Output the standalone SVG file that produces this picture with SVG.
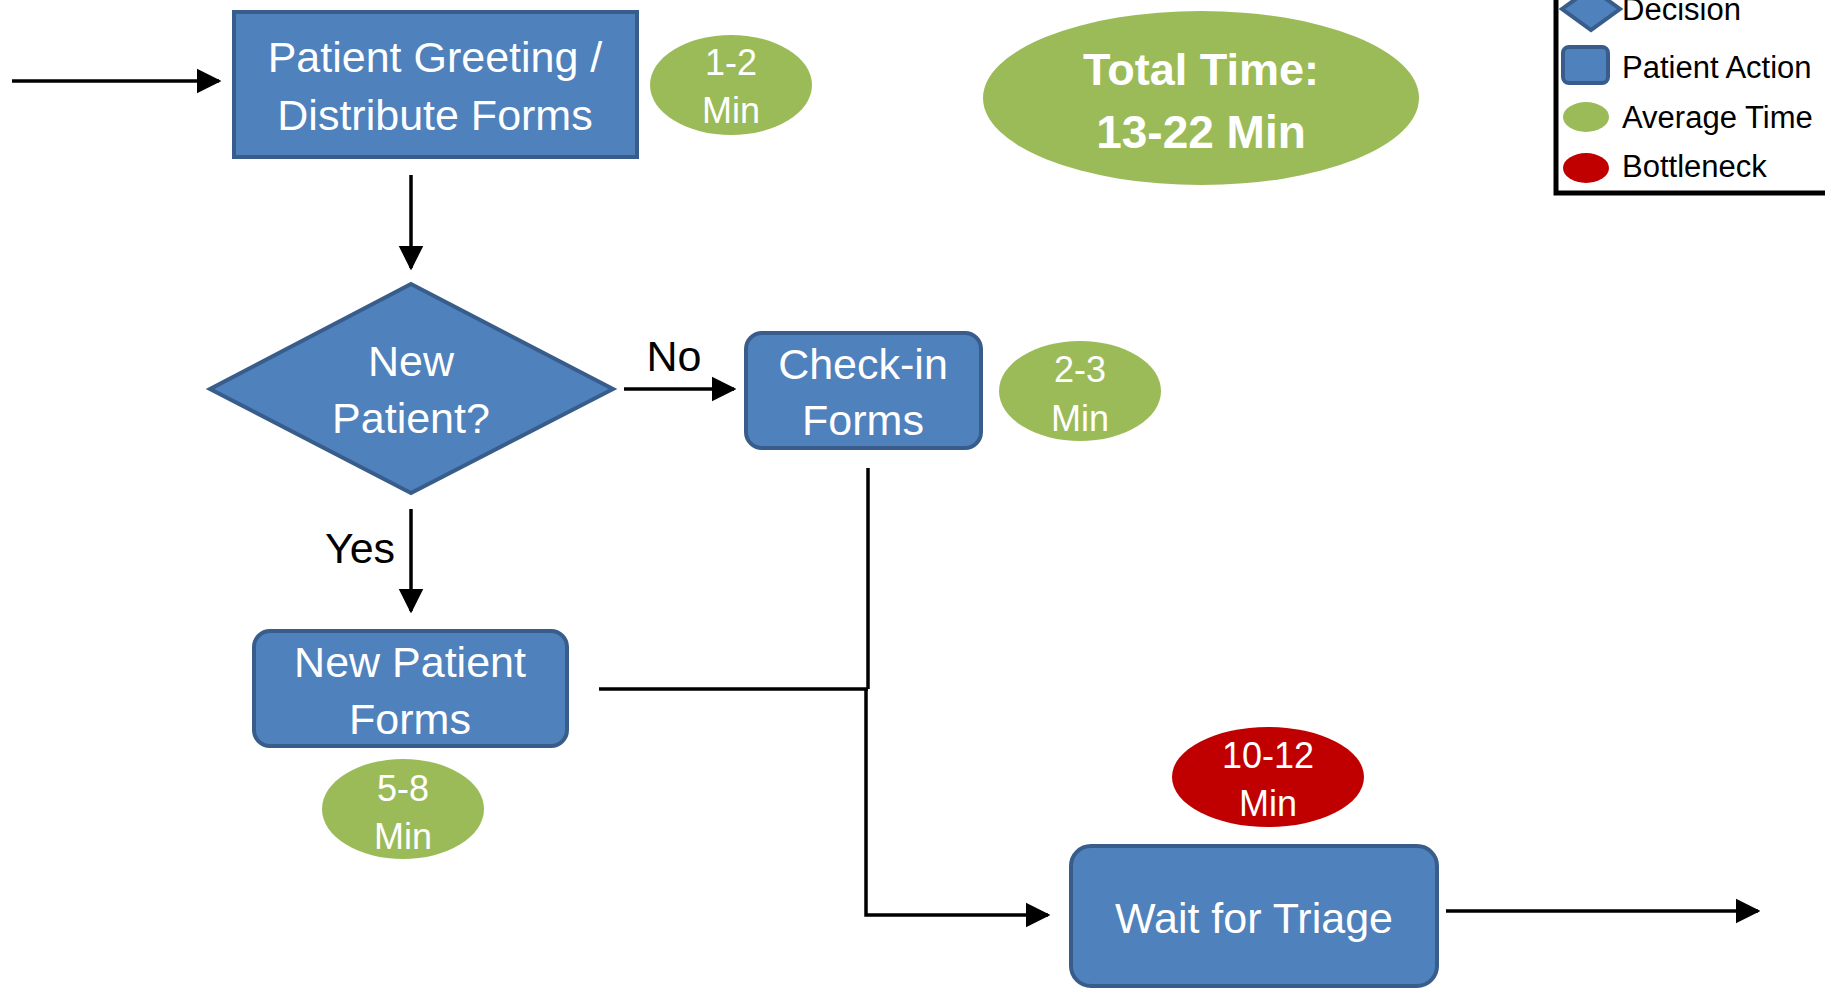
<svg xmlns="http://www.w3.org/2000/svg" width="1825" height="989" viewBox="0 0 1825 989">
<defs>
<marker id="ah" viewBox="0 0 10 10" refX="9" refY="5" markerWidth="7" markerHeight="8" markerUnits="strokeWidth" orient="auto">
<path d="M0,0 L10,5 L0,10 z" fill="#000"/>
</marker>
</defs>
<style>
.act{fill:#4F81BD;stroke:#385D8A;stroke-width:4}
.t{font-family:"Liberation Sans",Arial,sans-serif;fill:#fff;text-anchor:middle}
.big{font-size:43px}
.sm{font-size:36px}
.lbl{font-family:"Liberation Sans",Arial,sans-serif;fill:#000;font-size:43px;text-anchor:middle}
.lg{font-family:"Liberation Sans",Arial,sans-serif;fill:#000;font-size:31px}
.g{fill:#9BBB59}
.r{fill:#C00000}
.c{fill:none;stroke:#000;stroke-width:3.5}
</style>
<rect width="1825" height="989" fill="#fff"/>

<g id="connectors">
<line class="c" x1="12" y1="81" x2="219" y2="81" marker-end="url(#ah)"/>
<line class="c" x1="411" y1="175" x2="411" y2="268" marker-end="url(#ah)"/>
<line class="c" x1="624" y1="389" x2="734" y2="389" marker-end="url(#ah)"/>
<line class="c" x1="411" y1="509" x2="411" y2="611" marker-end="url(#ah)"/>
<polyline class="c" points="868,468 868,689"/>
<polyline class="c" points="599,689 868,689"/>
<polyline class="c" points="866,689 866,915 1048,915" marker-end="url(#ah)"/>
<line class="c" x1="1446" y1="911" x2="1758" y2="911" marker-end="url(#ah)"/>
<text class="lbl" x="674" y="371">No</text>
<text class="lbl" x="360" y="563">Yes</text>
</g>

<g id="greeting">
<rect class="act" x="234" y="12" width="403" height="145"/>
<text class="t big" x="435" y="72">Patient Greeting /</text>
<text class="t big" x="435" y="130">Distribute Forms</text>
</g>
<g id="time-greeting">
<ellipse class="g" cx="731" cy="85" rx="81" ry="50"/>
<text class="t sm" x="731" y="75">1-2</text>
<text class="t sm" x="731" y="123">Min</text>
</g>

<g id="total-time">
<ellipse class="g" cx="1201" cy="98" rx="218" ry="87"/>
<text class="t" x="1201" y="85" font-size="45" font-weight="bold">Total Time:</text>
<text class="t" x="1201" y="148" font-size="46" font-weight="bold">13-22 Min</text>
</g>

<g id="decision">
<polygon class="act" points="411,284 613,389 411,493 210,389"/>
<text class="t big" x="411" y="376">New</text>
<text class="t big" x="411" y="433">Patient?</text>
</g>

<g id="checkin">
<rect class="act" x="746" y="333" width="235" height="115" rx="16"/>
<text class="t big" x="863" y="379">Check-in</text>
<text class="t big" x="863" y="435">Forms</text>
</g>
<g id="time-checkin">
<ellipse class="g" cx="1080" cy="391" rx="81" ry="50"/>
<text class="t sm" x="1080" y="382">2-3</text>
<text class="t sm" x="1080" y="431">Min</text>
</g>

<g id="newpatient">
<rect class="act" x="254" y="631" width="313" height="115" rx="16"/>
<text class="t big" x="410" y="677">New Patient</text>
<text class="t big" x="410" y="734">Forms</text>
</g>
<g id="time-newpatient">
<ellipse class="g" cx="403" cy="809" rx="81" ry="50"/>
<text class="t sm" x="403" y="801">5-8</text>
<text class="t sm" x="403" y="849">Min</text>
</g>

<g id="bottleneck">
<ellipse class="r" cx="1268" cy="777" rx="96" ry="50"/>
<text class="t sm" x="1268" y="768">10-12</text>
<text class="t sm" x="1268" y="816">Min</text>
</g>

<g id="triage">
<rect class="act" x="1071" y="846" width="366" height="140" rx="20"/>
<text class="t big" x="1254" y="933">Wait for Triage</text>
</g>

<g id="legend">
<rect x="1556" y="-20" width="300" height="213" fill="none" stroke="#000" stroke-width="5"/>
<polygon class="act" points="1591,-12 1620,9 1591,30 1562,9" stroke-width="3"/>
<text class="lg" x="1622" y="20">Decision</text>
<rect class="act" x="1563" y="47" width="45" height="36" rx="6" stroke-width="3"/>
<text class="lg" x="1622" y="78">Patient Action</text>
<ellipse class="g" cx="1586" cy="117" rx="23" ry="15"/>
<text class="lg" x="1622" y="128">Average Time</text>
<ellipse class="r" cx="1586" cy="168" rx="23" ry="15"/>
<text class="lg" x="1622" y="177">Bottleneck</text>
</g>
</svg>
